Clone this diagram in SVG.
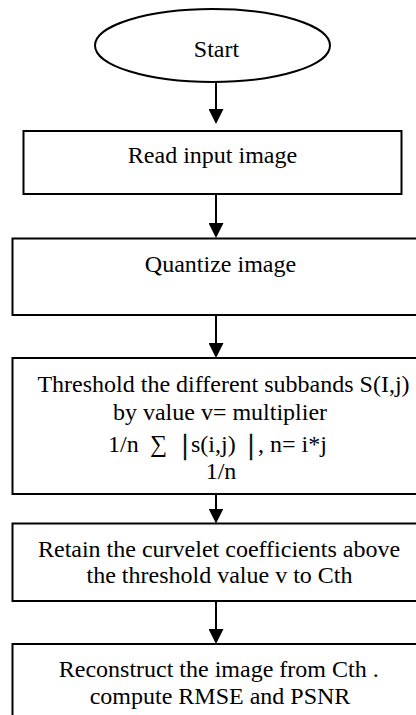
<svg xmlns="http://www.w3.org/2000/svg" width="416" height="715" viewBox="0 0 416 715">
<style>
.shape{fill:#fff;stroke:#000;stroke-width:2}
.t{font-family:"Liberation Serif","Times New Roman",serif;font-size:24px;fill:#000;text-anchor:middle}
.ts{font-family:"Liberation Serif","Times New Roman",serif;font-size:24px;fill:#000}
.bar{font-family:"Liberation Serif","Times New Roman",serif;font-size:30px;fill:#000;stroke:#000;stroke-width:0.6}
.conn{stroke:#000;stroke-width:2;fill:none;marker-end:url(#arr)}
</style>
<defs>
<marker id="arr" markerUnits="userSpaceOnUse" markerWidth="15" markerHeight="15" refX="7" refY="7.5" orient="auto">
<path d="M0,0 L15,7.5 L0,15 z" fill="#000"/>
</marker>
</defs>
<rect width="416" height="715" fill="#fff"/>
<g id="start">
<ellipse class="shape" cx="212.5" cy="45.5" rx="117.5" ry="36.5"/>
<text class="t" x="216.5" y="56.5">Start</text>
</g>
<g id="read">
<rect class="shape" x="23.5" y="131" width="378" height="63"/>
<text class="t" x="212.5" y="163">Read input image</text>
</g>
<g id="quantize">
<rect class="shape" x="12.5" y="238.5" width="416" height="76.5"/>
<text class="t" x="220.5" y="271.5">Quantize image</text>
</g>
<g id="threshold">
<rect class="shape" x="12.5" y="358" width="416" height="136"/>
<text class="t" x="223.5" y="392">Threshold the different subbands S(I,j)</text>
<text class="t" x="220" y="420">by value v= multiplier</text>
<text class="ts" y="452"><tspan x="108">1/n</tspan><tspan x="150">∑</tspan><tspan x="191">s(i,j)</tspan><tspan x="258">, n= i*j</tspan></text>
<text class="bar" x="182" y="454">|</text>
<text class="bar" x="248" y="454">|</text>
<text class="t" x="221" y="479">1/n</text>
</g>
<g id="retain">
<rect class="shape" x="12.5" y="523.5" width="416" height="77.5"/>
<text class="t" x="219" y="556.5">Retain the curvelet coefficients above</text>
<text class="t" x="219.5" y="583">the threshold value v to Cth</text>
</g>
<g id="reconstruct">
<rect class="shape" x="12.5" y="644" width="416" height="90"/>
<text class="t" x="218.7" y="677">Reconstruct the image from Cth .</text>
<text class="t" x="220" y="703.5">compute RMSE and PSNR</text>
</g>
<g id="connectors">
<line class="conn" x1="216" y1="82" x2="216" y2="116"/>
<line class="conn" x1="216" y1="194" x2="216" y2="230"/>
<line class="conn" x1="216" y1="315" x2="216" y2="350"/>
<line class="conn" x1="216" y1="494" x2="216" y2="515.5"/>
<line class="conn" x1="216" y1="601" x2="216" y2="636"/>
</g>
</svg>
